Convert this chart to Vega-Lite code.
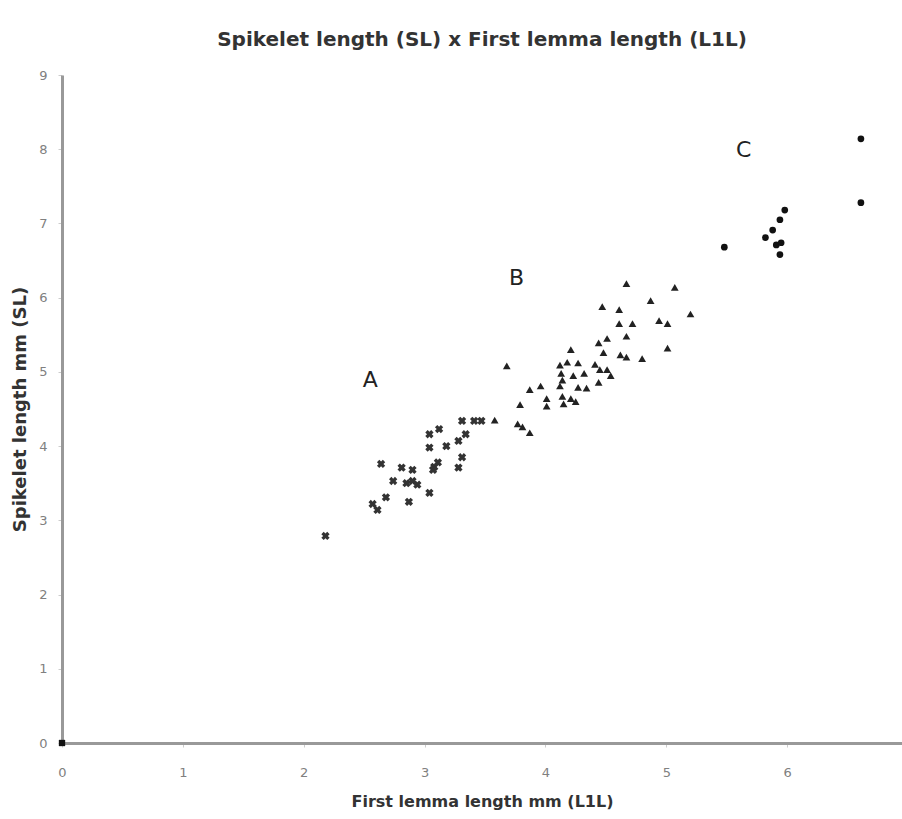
{
  "$schema": "https://vega.github.io/schema/vega-lite/v6.json",
  "autosize": {"type": "none"},
  "width": 840,
  "height": 668,
  "padding": {"left": 62, "top": 75, "right": 0, "bottom": 76},
  "background": "white",
  "config": {
    "view": {"stroke": null},
    "font": "DejaVu Sans",
    "axis": {
      "grid": false,
      "domainColor": "#999999",
      "domainWidth": 3,
      "tickColor": "#cccccc",
      "tickSize": 4,
      "labelColor": "#808080",
      "labelFontSize": 13,
      "labelFont": "DejaVu Sans",
      "labelFlush": false,
      "format": "d",
      "titleFont": "DejaVu Sans",
      "titleFontSize": 16,
      "titleFontWeight": "bold",
      "titleColor": "#333333"
    }
  },
  "title": {
    "text": "Spikelet length (SL) x First lemma length (L1L)",
    "fontSize": 20,
    "fontWeight": "bold",
    "color": "#333333",
    "font": "DejaVu Sans",
    "anchor": "middle",
    "offset": 19
  },
  "datasets": {
    "points": [
      {"series": "O", "L1L": 0, "SL": 0},
      {"series": "A", "L1L": 2.18, "SL": 2.79},
      {"series": "A", "L1L": 2.64, "SL": 3.76},
      {"series": "A", "L1L": 2.81, "SL": 3.71},
      {"series": "A", "L1L": 2.90, "SL": 3.68},
      {"series": "A", "L1L": 2.74, "SL": 3.53},
      {"series": "A", "L1L": 2.85, "SL": 3.50},
      {"series": "A", "L1L": 2.90, "SL": 3.53},
      {"series": "A", "L1L": 2.94, "SL": 3.48},
      {"series": "A", "L1L": 2.68, "SL": 3.31},
      {"series": "A", "L1L": 2.87, "SL": 3.25},
      {"series": "A", "L1L": 3.04, "SL": 3.37},
      {"series": "A", "L1L": 2.57, "SL": 3.22},
      {"series": "A", "L1L": 2.61, "SL": 3.14},
      {"series": "A", "L1L": 3.08, "SL": 3.72},
      {"series": "A", "L1L": 3.11, "SL": 3.78},
      {"series": "A", "L1L": 3.07, "SL": 3.68},
      {"series": "A", "L1L": 3.28, "SL": 3.71},
      {"series": "A", "L1L": 3.31, "SL": 3.85},
      {"series": "A", "L1L": 3.04, "SL": 3.98},
      {"series": "A", "L1L": 3.18, "SL": 4.00},
      {"series": "A", "L1L": 3.28, "SL": 4.07},
      {"series": "A", "L1L": 3.34, "SL": 4.16},
      {"series": "A", "L1L": 3.04, "SL": 4.16},
      {"series": "A", "L1L": 3.12, "SL": 4.23},
      {"series": "A", "L1L": 3.31, "SL": 4.34},
      {"series": "A", "L1L": 3.41, "SL": 4.34},
      {"series": "A", "L1L": 3.47, "SL": 4.34},
      {"series": "B", "L1L": 3.58, "SL": 4.35},
      {"series": "B", "L1L": 4.67, "SL": 6.19},
      {"series": "B", "L1L": 5.07, "SL": 6.14},
      {"series": "B", "L1L": 4.47, "SL": 5.88},
      {"series": "B", "L1L": 4.61, "SL": 5.84},
      {"series": "B", "L1L": 4.87, "SL": 5.96},
      {"series": "B", "L1L": 5.20, "SL": 5.78},
      {"series": "B", "L1L": 4.61, "SL": 5.65},
      {"series": "B", "L1L": 4.72, "SL": 5.65},
      {"series": "B", "L1L": 4.94, "SL": 5.69},
      {"series": "B", "L1L": 5.01, "SL": 5.65},
      {"series": "B", "L1L": 4.67, "SL": 5.48},
      {"series": "B", "L1L": 4.44, "SL": 5.39},
      {"series": "B", "L1L": 4.51, "SL": 5.45},
      {"series": "B", "L1L": 4.48, "SL": 5.26},
      {"series": "B", "L1L": 5.01, "SL": 5.32},
      {"series": "B", "L1L": 4.62, "SL": 5.23},
      {"series": "B", "L1L": 4.67, "SL": 5.20},
      {"series": "B", "L1L": 4.80, "SL": 5.18},
      {"series": "B", "L1L": 4.21, "SL": 5.30},
      {"series": "B", "L1L": 3.68, "SL": 5.08},
      {"series": "B", "L1L": 4.12, "SL": 5.09},
      {"series": "B", "L1L": 4.18, "SL": 5.13},
      {"series": "B", "L1L": 4.27, "SL": 5.12},
      {"series": "B", "L1L": 4.41, "SL": 5.10},
      {"series": "B", "L1L": 4.45, "SL": 5.03},
      {"series": "B", "L1L": 4.51, "SL": 5.03},
      {"series": "B", "L1L": 4.54, "SL": 4.95},
      {"series": "B", "L1L": 4.13, "SL": 4.98},
      {"series": "B", "L1L": 4.23, "SL": 4.95},
      {"series": "B", "L1L": 4.32, "SL": 4.98},
      {"series": "B", "L1L": 4.14, "SL": 4.89},
      {"series": "B", "L1L": 4.27, "SL": 4.79},
      {"series": "B", "L1L": 4.34, "SL": 4.78},
      {"series": "B", "L1L": 4.44, "SL": 4.86},
      {"series": "B", "L1L": 3.96, "SL": 4.81},
      {"series": "B", "L1L": 3.87, "SL": 4.76},
      {"series": "B", "L1L": 4.12, "SL": 4.81},
      {"series": "B", "L1L": 4.01, "SL": 4.64},
      {"series": "B", "L1L": 4.01, "SL": 4.54},
      {"series": "B", "L1L": 4.14, "SL": 4.67},
      {"series": "B", "L1L": 4.21, "SL": 4.64},
      {"series": "B", "L1L": 4.15, "SL": 4.57},
      {"series": "B", "L1L": 4.25, "SL": 4.60},
      {"series": "B", "L1L": 3.79, "SL": 4.56},
      {"series": "B", "L1L": 3.77, "SL": 4.30},
      {"series": "B", "L1L": 3.81, "SL": 4.26},
      {"series": "B", "L1L": 3.87, "SL": 4.18},
      {"series": "C", "L1L": 6.61, "SL": 8.14},
      {"series": "C", "L1L": 6.61, "SL": 7.28},
      {"series": "C", "L1L": 5.48, "SL": 6.68},
      {"series": "C", "L1L": 5.98, "SL": 7.18},
      {"series": "C", "L1L": 5.94, "SL": 7.05},
      {"series": "C", "L1L": 5.88, "SL": 6.91},
      {"series": "C", "L1L": 5.82, "SL": 6.81},
      {"series": "C", "L1L": 5.91, "SL": 6.71},
      {"series": "C", "L1L": 5.95, "SL": 6.74},
      {"series": "C", "L1L": 5.94, "SL": 6.58}
    ],
    "labels": [
      {"label": "A", "L1L": 2.55, "SL": 4.89},
      {"label": "B", "L1L": 3.76, "SL": 6.27},
      {"label": "C", "L1L": 5.64, "SL": 7.99}
    ]
  },
  "encoding": {
    "x": {
      "field": "L1L",
      "type": "quantitative",
      "scale": {"domain": [0, 6.95], "nice": false, "zero": false},
      "axis": {
        "title": "First lemma length mm (L1L)",
        "values": [0, 1, 2, 3, 4, 5, 6],
        "labelPadding": 19,
        "titlePadding": 14
      }
    },
    "y": {
      "field": "SL",
      "type": "quantitative",
      "scale": {"domain": [0, 9], "nice": false},
      "axis": {
        "title": "Spikelet length mm (SL)",
        "titleFontSize": 18,
        "values": [0, 1, 2, 3, 4, 5, 6, 7, 8, 9],
        "labelPadding": 11,
        "titlePadding": 9
      }
    }
  },
  "layer": [
    {
      "mark": {"type": "rule", "color": "#aaaaaa", "strokeWidth": 2},
      "encoding": {
        "x": null,
        "y": {"datum": 9, "type": "quantitative"}
      }
    },
    {
      "data": {"name": "points"},
      "transform": [{"filter": "datum.series === 'A'"}],
      "mark": {"type": "point", "shape": "cross", "angle": 45, "filled": true, "opacity": 1, "size": 70, "color": "#333333"}
    },
    {
      "data": {"name": "points"},
      "transform": [{"filter": "datum.series === 'B'"}],
      "mark": {"type": "point", "shape": "triangle-up", "filled": true, "opacity": 1, "size": 60, "color": "#222222"}
    },
    {
      "data": {"name": "points"},
      "transform": [{"filter": "datum.series === 'C'"}],
      "mark": {"type": "point", "shape": "circle", "filled": true, "opacity": 1, "size": 45, "color": "#111111"}
    },
    {
      "data": {"name": "points"},
      "transform": [{"filter": "datum.series === 'O'"}],
      "mark": {"type": "point", "shape": "square", "filled": true, "opacity": 1, "size": 40, "color": "#111111"}
    },
    {
      "data": {"name": "labels"},
      "mark": {"type": "text", "fontSize": 22, "color": "#222222", "font": "DejaVu Sans"},
      "encoding": {
        "text": {"field": "label"}
      }
    }
  ]
}
